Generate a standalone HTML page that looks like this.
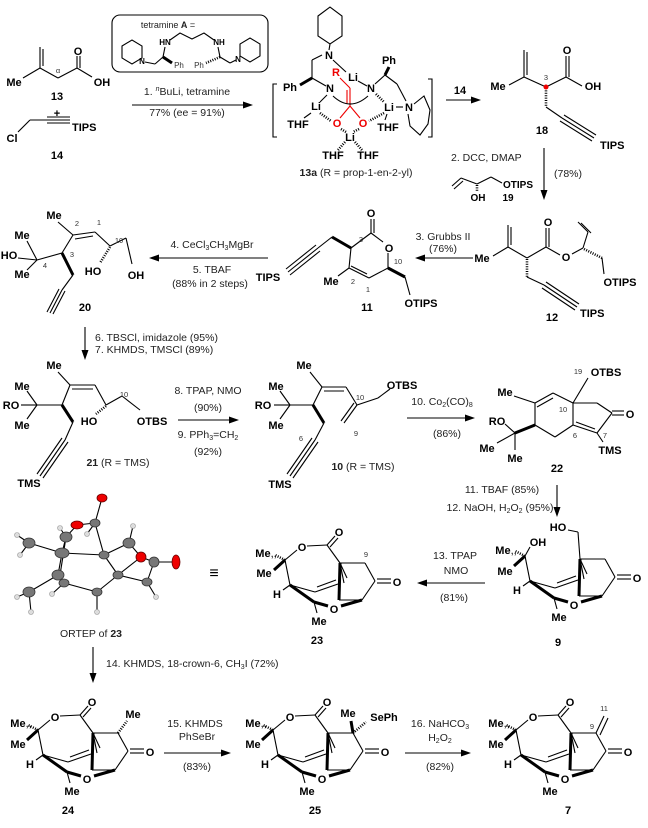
<!DOCTYPE html>
<html><head><meta charset="utf-8"><style>
html,body{margin:0;padding:0;background:#fff}
svg{display:block}
.t{font-family:"Liberation Sans",sans-serif;font-size:10.5px;text-anchor:middle;fill:#222}
.ts{font-family:"Liberation Sans",sans-serif;font-size:10.5px;text-anchor:start;fill:#222}
.a{font-family:"Liberation Sans",sans-serif;font-size:11px;font-weight:bold;text-anchor:middle}
.as{font-family:"Liberation Sans",sans-serif;font-size:11px;font-weight:bold;text-anchor:start}
.n{font-family:"Liberation Sans",sans-serif;font-size:7.5px;text-anchor:middle;fill:#333}
.s{font-family:"Liberation Sans",sans-serif;font-size:8px;font-weight:bold;text-anchor:middle}
line,polyline,polygon.r,path{stroke:#000;stroke-width:1.1;fill:none}
.w{stroke-width:3}
.h{stroke-width:2.6;stroke-dasharray:1 1.4}
.red{stroke:#e00}
</style></head><body>
<svg width="648" height="828" viewBox="0 0 648 828" xmlns="http://www.w3.org/2000/svg">
<defs>
<g id="core">
<line x1="38" y1="730" x2="43" y2="755"/>
<line x1="43" y1="755" x2="36" y2="760"/>
<line class="w" x1="43" y1="755" x2="67" y2="772"/>
<line x1="43" y1="755" x2="68" y2="762"/>
<line x1="68" y1="762" x2="91" y2="754"/>
<line x1="70" y1="757" x2="89" y2="750"/>
<line x1="93" y1="733" x2="97" y2="753"/>
<line class="w" x1="93" y1="733" x2="92" y2="770"/>
<line x1="93" y1="733" x2="100" y2="748"/>
<line class="w" x1="67" y1="772" x2="81" y2="776"/>
<line class="w" x1="94" y1="776" x2="115" y2="770"/>
<line x1="92" y1="770" x2="115" y2="770"/>
<line x1="115" y1="770" x2="128" y2="751"/>
<line x1="128" y1="751" x2="118" y2="733"/>
<line x1="93" y1="733" x2="118" y2="733"/>
<line x1="130" y1="749" x2="144" y2="749"/>
<line x1="130" y1="753" x2="144" y2="753"/>
<line x1="67" y1="772" x2="70" y2="783"/>
<line class="h" x1="38" y1="730" x2="28" y2="725"/>
<line class="w" x1="38" y1="730" x2="27" y2="740"/>
</g>
<g id="lac">
<line x1="38" y1="730" x2="50" y2="720"/>
<line x1="60" y1="716" x2="80" y2="715"/>
<line x1="80" y1="715" x2="88" y2="706"/>
<line x1="83" y1="717" x2="91" y2="708"/>
<line x1="80" y1="715" x2="93" y2="733"/>
</g>
<polygon id="ah" points="0,0 -10,-3.5 -10,3.5" fill="#000" stroke="none"/>
</defs>

<!-- 13 -->
<line x1="40" y1="47" x2="40" y2="68"/><line x1="43" y1="49" x2="43" y2="66"/>
<line x1="40" y1="68" x2="23" y2="78"/><line x1="40" y1="68" x2="58" y2="78"/>
<line x1="58" y1="78" x2="77" y2="68"/><line x1="77" y1="68" x2="77" y2="56"/><line x1="80" y1="68" x2="80" y2="56"/>
<line x1="77" y1="68" x2="92" y2="77"/>
<text class="a" x="14" y="86">Me</text><text class="a" x="78" y="55">O</text><text class="a" x="102" y="86">OH</text>
<text class="n" x="58" y="73">α</text>
<text class="a" x="57" y="100">13</text>
<text class="a" x="57" y="117">+</text>
<text class="a" x="12" y="142">Cl</text>
<line x1="18" y1="132" x2="30" y2="120"/><line x1="30" y1="120" x2="47" y2="120"/>
<line x1="47" y1="117" x2="70" y2="117"/><line x1="47" y1="120" x2="70" y2="120"/><line x1="47" y1="123" x2="70" y2="123"/>
<text class="as" x="72" y="131">TIPS</text>
<text class="a" x="57" y="159">14</text>

<!-- tetramine box -->
<rect x="112" y="15" width="156" height="57" rx="8" fill="none" stroke="#000" stroke-width="1.1"/>
<text class="t" x="168" y="28" style="font-size:9px">tetramine <tspan font-weight="bold">A</tspan> =</text>
<polygon class="r" points="122,46 132,40 142,46 142,58 132,64 122,58"/>
<line x1="145" y1="62" x2="155" y2="64"/><line x1="155" y1="64" x2="163" y2="57"/>
<line class="w" x1="163" y1="57" x2="172" y2="63"/>
<line x1="163" y1="57" x2="165" y2="47"/>
<polyline points="170,40 180,33 192,39 204,33 214,40"/>
<line class="h" x1="220" y1="57" x2="206" y2="63"/>
<line x1="220" y1="57" x2="218" y2="47"/>
<line x1="220" y1="57" x2="230" y2="63"/><line x1="230" y1="63" x2="236" y2="60"/>
<polygon class="r" points="240,56 240,44 250,38 260,44 260,56 250,62"/>
<text class="s" x="142" y="64">N</text><text class="s" x="238" y="62">N</text>
<text class="s" x="165" y="45">HN</text><text class="s" x="219" y="45">NH</text>
<text class="n" x="179" y="68" style="font-size:8px">Ph</text><text class="n" x="199" y="68" style="font-size:8px">Ph</text>

<!-- arrow 1 -->
<line x1="132" y1="105" x2="246" y2="105"/><use href="#ah" transform="translate(253,105)"/>
<text class="t" x="187" y="95">1. <tspan font-style="italic" font-size="7" dy="-4">n</tspan><tspan dy="4">BuLi, tetramine</tspan></text>
<text class="t" x="187" y="116">77% (ee = 91%)</text>

<!-- 13a -->
<polyline points="277,84 273,84 273,137 277,137"/>
<polyline points="428,79 432,79 432,137 428,137"/>
<polygon class="r" points="318,16 330,7 342,16 342,36 330,44 318,36"/>
<line x1="330" y1="44" x2="329" y2="50"/>
<text class="a" x="329" y="59">N</text>
<line x1="333" y1="60" x2="346" y2="72"/>
<text class="a" x="353" y="81">Li</text>
<line x1="312" y1="60" x2="312" y2="78"/><line x1="312" y1="60" x2="322" y2="55"/>
<line class="w" x1="300" y1="85" x2="312" y2="78"/>
<text class="a" x="290" y="91">Ph</text>
<line x1="312" y1="78" x2="326" y2="86"/>
<text class="a" x="330" y="92">N</text>
<line x1="327" y1="95" x2="320" y2="102"/>
<text class="a" x="316" y="110">Li</text>
<line x1="311" y1="113" x2="304" y2="118"/>
<text class="a" x="298" y="128">THF</text>
<text class="a" x="336" y="76" fill="#e00">R</text>
<line class="red" x1="340" y1="78" x2="350" y2="88"/>
<line class="red" x1="350" y1="88" x2="350" y2="106"/><line class="red" x1="347" y1="90" x2="347" y2="104"/>
<line class="red" x1="350" y1="106" x2="340" y2="118"/><line class="red" x1="350" y1="106" x2="360" y2="118"/>
<text class="a" x="337" y="127" fill="#e00">O</text><text class="a" x="363" y="127" fill="#e00">O</text>
<path d="M333,96 Q350,112 368,96"/>
<line class="h" x1="320" y1="113" x2="331" y2="121"/>
<line class="h" x1="384" y1="113" x2="369" y2="121"/>
<line class="h" x1="341" y1="129" x2="346" y2="132"/><line class="h" x1="359" y1="129" x2="353" y2="132"/>
<text class="a" x="350" y="141">Li</text>
<line class="h" x1="345" y1="142" x2="338" y2="150"/><line class="h" x1="355" y1="142" x2="362" y2="150"/>
<text class="a" x="333" y="159">THF</text><text class="a" x="368" y="159">THF</text>
<line x1="358" y1="81" x2="367" y2="86"/>
<text class="a" x="371" y="92">N</text>
<line class="h" x1="376" y1="94" x2="384" y2="102"/>
<text class="a" x="389" y="111">Li</text>
<line x1="396" y1="107" x2="403" y2="107"/>
<text class="a" x="409" y="111">N</text>
<line x1="387" y1="114" x2="385" y2="120"/>
<text class="a" x="388" y="131">THF</text>
<line class="w" x1="385" y1="75" x2="389" y2="67"/>
<text class="a" x="389" y="64">Ph</text>
<line x1="385" y1="75" x2="375" y2="84"/><line x1="385" y1="75" x2="397" y2="84"/><line x1="397" y1="84" x2="406" y2="101"/>
<polyline points="414,104 424,96 430,110 428,124 420,135 410,126 408,114"/>
<text class="t" x="356" y="176"><tspan font-weight="bold">13a</tspan> (R = prop-1-en-2-yl)</text>

<!-- arrow 14 -->
<line x1="446" y1="100" x2="474" y2="100"/><use href="#ah" transform="translate(481,100)"/>
<text class="a" x="460" y="94">14</text>

<!-- 18 -->
<line x1="524" y1="50" x2="524" y2="77"/><line x1="527" y1="52" x2="527" y2="75"/>
<line x1="524" y1="77" x2="509" y2="85"/><line x1="524" y1="77" x2="546" y2="87"/>
<line x1="546" y1="87" x2="566" y2="77"/><line x1="566" y1="77" x2="566" y2="56"/><line x1="569" y1="77" x2="569" y2="56"/>
<line x1="566" y1="77" x2="582" y2="86"/>
<line class="h" x1="546" y1="88" x2="546" y2="107"/>
<line x1="546" y1="107" x2="562" y2="118"/>
<line x1="562" y1="118" x2="594" y2="138"/><line x1="564" y1="115" x2="596" y2="135"/><line x1="560" y1="121" x2="592" y2="141"/>
<circle cx="546" cy="87" r="2.5" fill="#e00"/>
<text class="a" x="498" y="90">Me</text><text class="a" x="567" y="54">O</text><text class="a" x="593" y="90">OH</text>
<text class="n" x="546" y="80">3</text>
<text class="as" x="600" y="149">TIPS</text>
<text class="a" x="542" y="134">18</text>

<!-- arrow 2 -->
<line x1="544" y1="148" x2="544" y2="193"/><use href="#ah" transform="translate(544,200) rotate(90)"/>
<text class="ts" x="451" y="161">2. DCC, DMAP</text>
<text class="ts" x="554" y="177">(78%)</text>
<line x1="452" y1="186" x2="461" y2="178"/><line x1="454" y1="189" x2="463" y2="181"/>
<line x1="461" y1="178" x2="477" y2="184"/><line x1="477" y1="184" x2="491" y2="177"/><line x1="491" y1="177" x2="502" y2="183"/>
<line class="h" x1="477" y1="185" x2="477" y2="192"/>
<text class="as" x="503" y="188" style="font-size:10px">OTIPS</text>
<text class="a" x="478" y="201" style="font-size:10px">OH</text>
<text class="a" x="508" y="201" style="font-size:10px">19</text>

<!-- 12 -->
<line x1="508" y1="225" x2="508" y2="247"/><line x1="511" y1="227" x2="511" y2="245"/>
<line x1="508" y1="247" x2="493" y2="256"/><line x1="508" y1="247" x2="527" y2="258"/>
<line x1="527" y1="258" x2="546" y2="247"/><line x1="546" y1="247" x2="546" y2="228"/><line x1="549" y1="247" x2="549" y2="228"/>
<line x1="546" y1="247" x2="560" y2="255"/><line x1="572" y1="254" x2="583" y2="248"/>
<line x1="583" y1="248" x2="588" y2="232"/><line x1="588" y1="232" x2="578" y2="222"/><line x1="591" y1="233" x2="581" y2="223"/>
<line class="h" x1="584" y1="249" x2="602" y2="258"/><line x1="602" y1="258" x2="604" y2="274"/>
<line class="h" x1="527" y1="259" x2="527" y2="277"/><line x1="527" y1="277" x2="544" y2="285"/>
<line x1="544" y1="285" x2="577" y2="307"/><line x1="546" y1="282" x2="579" y2="304"/><line x1="542" y1="288" x2="575" y2="310"/>
<text class="a" x="482" y="262">Me</text><text class="a" x="548" y="226">O</text><text class="a" x="566" y="261">O</text>
<text class="a" x="620" y="286">OTIPS</text><text class="as" x="580" y="317">TIPS</text>
<text class="a" x="552" y="321">12</text>

<!-- arrow 3 -->
<line x1="473" y1="258" x2="422" y2="258"/><use href="#ah" transform="translate(415,258) rotate(180)"/>
<text class="t" x="443" y="240">3. Grubbs II</text><text class="t" x="443" y="252">(76%)</text>

<!-- 11 -->
<line x1="371" y1="219" x2="371" y2="233"/><line x1="374" y1="219" x2="374" y2="233"/>
<line x1="371" y1="233" x2="383" y2="242"/><line x1="388" y1="253" x2="388" y2="268"/>
<line x1="388" y1="268" x2="369" y2="278"/><line x1="369" y1="278" x2="349" y2="268"/><line x1="367" y1="274" x2="351" y2="266"/>
<line x1="349" y1="268" x2="351" y2="248"/><line x1="351" y1="248" x2="371" y2="233"/>
<line x1="349" y1="268" x2="338" y2="276"/>
<line class="w" x1="351" y1="248" x2="332" y2="237"/><line x1="332" y1="237" x2="318" y2="248"/>
<line x1="318" y1="248" x2="288" y2="272"/><line x1="316" y1="245" x2="286" y2="269"/><line x1="320" y1="251" x2="290" y2="275"/>
<line class="w" x1="388" y1="268" x2="405" y2="277"/><line x1="405" y1="277" x2="410" y2="295"/>
<text class="a" x="371" y="217">O</text><text class="a" x="389" y="252">O</text>
<text class="a" x="331" y="285">Me</text><text class="a" x="268" y="281">TIPS</text><text class="a" x="421" y="307">OTIPS</text>
<text class="n" x="361" y="242">3</text><text class="n" x="353" y="284">2</text><text class="n" x="368" y="292">1</text><text class="n" x="398" y="264">10</text>
<text class="a" x="367" y="311">11</text>

<!-- arrow 4/5 -->
<line x1="268" y1="258" x2="156" y2="258"/><use href="#ah" transform="translate(149,258) rotate(180)"/>
<text class="t" x="212" y="248">4. CeCl<tspan font-size="7" dy="2">3</tspan><tspan dy="-2">CH</tspan><tspan font-size="7" dy="2">3</tspan><tspan dy="-2">MgBr</tspan></text>
<text class="t" x="212" y="273">5. TBAF</text><text class="t" x="210" y="287">(88% in 2 steps)</text>

<!-- 20 -->
<line x1="58" y1="222" x2="73" y2="235"/>
<line x1="73" y1="235" x2="95" y2="232"/><line x1="75" y1="239" x2="93" y2="236"/>
<line x1="95" y1="232" x2="110" y2="246"/><line x1="110" y1="246" x2="126" y2="238"/><line x1="126" y1="238" x2="132" y2="264"/>
<line class="h" x1="110" y1="247" x2="100" y2="263"/>
<line x1="73" y1="235" x2="62" y2="253"/><line x1="62" y1="253" x2="37" y2="260"/>
<line x1="37" y1="260" x2="27" y2="241"/><line x1="37" y1="260" x2="18" y2="258"/><line x1="37" y1="260" x2="27" y2="270"/>
<line class="w" x1="62" y1="253" x2="73" y2="275"/><line x1="73" y1="275" x2="62" y2="290"/>
<line x1="62" y1="290" x2="50" y2="313"/><line x1="59" y1="289" x2="47" y2="312"/><line x1="65" y1="291" x2="53" y2="314"/>
<text class="a" x="54" y="219">Me</text><text class="a" x="22" y="239">Me</text><text class="a" x="9" y="259">HO</text><text class="a" x="22" y="278">Me</text>
<text class="a" x="93" y="275">HO</text><text class="a" x="136" y="279">OH</text>
<text class="n" x="77" y="226">2</text><text class="n" x="99" y="225">1</text><text class="n" x="119" y="243">10</text><text class="n" x="72" y="257">3</text><text class="n" x="45" y="268">4</text>
<text class="a" x="85" y="311">20</text>

<!-- arrow 6/7 -->
<line x1="85" y1="327" x2="85" y2="353"/><use href="#ah" transform="translate(85,360) rotate(90)"/>
<text class="ts" x="95" y="341">6. TBSCl, imidazole (95%)</text>
<text class="ts" x="95" y="353">7. KHMDS, TMSCl (89%)</text>

<!-- 21 -->
<line x1="58" y1="372" x2="70" y2="385"/>
<line x1="70" y1="385" x2="95" y2="385"/><line x1="72" y1="389" x2="93" y2="389"/>
<line x1="95" y1="385" x2="106" y2="405"/><line x1="106" y1="405" x2="122" y2="396"/><line x1="122" y1="396" x2="140" y2="410"/>
<line class="h" x1="106" y1="406" x2="96" y2="414"/>
<line x1="70" y1="385" x2="62" y2="405"/><line x1="62" y1="405" x2="37" y2="405"/>
<line x1="37" y1="405" x2="27" y2="391"/><line x1="37" y1="405" x2="21" y2="405"/><line x1="37" y1="405" x2="27" y2="419"/>
<line class="w" x1="62" y1="405" x2="73" y2="422"/><line x1="73" y1="422" x2="65" y2="440"/>
<line x1="65" y1="440" x2="40" y2="476"/><line x1="62" y1="438" x2="37" y2="474"/><line x1="68" y1="442" x2="43" y2="478"/>
<text class="a" x="54" y="369">Me</text><text class="a" x="22" y="390">Me</text><text class="a" x="11" y="409">RO</text><text class="a" x="22" y="429">Me</text>
<text class="a" x="89" y="425">HO</text><text class="a" x="152" y="425">OTBS</text><text class="a" x="29" y="487">TMS</text>
<text class="n" x="124" y="397">10</text>
<text class="t" x="118" y="466"><tspan font-weight="bold">21</tspan> (R = TMS)</text>

<!-- arrow 8/9 -->
<line x1="178" y1="420" x2="232" y2="420"/><use href="#ah" transform="translate(239,420)"/>
<text class="t" x="208" y="394">8. TPAP,  NMO</text><text class="t" x="208" y="411">(90%)</text>
<text class="t" x="208" y="438">9. PPh<tspan font-size="7" dy="2">3</tspan><tspan dy="-2">=CH</tspan><tspan font-size="7" dy="2">2</tspan></text>
<text class="t" x="208" y="455">(92%)</text>

<!-- 10 -->
<line x1="310" y1="372" x2="322" y2="387"/>
<line x1="322" y1="387" x2="346" y2="387"/><line x1="324" y1="391" x2="344" y2="391"/>
<line x1="346" y1="387" x2="357" y2="405"/><line x1="357" y1="405" x2="344" y2="423"/><line x1="354" y1="403" x2="341" y2="421"/>
<line x1="357" y1="405" x2="378" y2="398"/><line x1="378" y1="398" x2="390" y2="389"/>
<line x1="322" y1="387" x2="313" y2="405"/><line x1="313" y1="405" x2="290" y2="405"/>
<line x1="290" y1="405" x2="280" y2="391"/><line x1="290" y1="405" x2="274" y2="405"/><line x1="290" y1="405" x2="280" y2="419"/>
<line class="w" x1="313" y1="405" x2="324" y2="423"/><line x1="324" y1="423" x2="315" y2="440"/>
<line x1="315" y1="440" x2="290" y2="476"/><line x1="312" y1="438" x2="287" y2="474"/><line x1="318" y1="442" x2="293" y2="478"/>
<text class="a" x="304" y="369">Me</text><text class="a" x="276" y="390">Me</text><text class="a" x="263" y="409">RO</text><text class="a" x="276" y="429">Me</text>
<text class="a" x="402" y="389">OTBS</text><text class="a" x="280" y="488">TMS</text>
<text class="n" x="360" y="400">10</text><text class="n" x="356" y="436">9</text><text class="n" x="301" y="441">6</text>
<text class="t" x="363" y="470"><tspan font-weight="bold">10</tspan> (R = TMS)</text>

<!-- arrow 10 -->
<line x1="407" y1="418" x2="468" y2="418"/><use href="#ah" transform="translate(475,418)"/>
<text class="t" x="442" y="405">10. Co<tspan font-size="7" dy="2">2</tspan><tspan dy="-2">(CO)</tspan><tspan font-size="7" dy="2">8</tspan></text>
<text class="t" x="447" y="437">(86%)</text>

<!-- 22 -->
<line x1="535" y1="403" x2="553" y2="393"/><line x1="537" y1="407" x2="553" y2="398"/>
<line x1="553" y1="393" x2="573" y2="403"/><line x1="573" y1="403" x2="573" y2="425"/>
<line x1="573" y1="425" x2="555" y2="437"/><line x1="555" y1="437" x2="535" y2="425"/><line x1="535" y1="425" x2="535" y2="403"/>
<line x1="535" y1="403" x2="514" y2="396"/>
<line class="w" x1="535" y1="425" x2="515" y2="433"/>
<line x1="515" y1="433" x2="505" y2="424"/><line x1="515" y1="433" x2="497" y2="443"/><line x1="515" y1="433" x2="515" y2="450"/>
<line x1="573" y1="403" x2="588" y2="378"/>
<line x1="573" y1="403" x2="597" y2="403"/><line x1="597" y1="403" x2="612" y2="413"/>
<line x1="612" y1="411" x2="624" y2="411"/><line x1="612" y1="415" x2="624" y2="415"/>
<line x1="612" y1="413" x2="597" y2="433"/><line x1="597" y1="433" x2="573" y2="425"/><line x1="595" y1="429" x2="576" y2="422"/>
<line x1="597" y1="433" x2="603" y2="442"/>
<text class="a" x="505" y="396">Me</text><text class="a" x="497" y="425">RO</text><text class="a" x="487" y="452">Me</text><text class="a" x="515" y="462">Me</text>
<text class="a" x="630" y="418">O</text><text class="a" x="610" y="454">TMS</text><text class="a" x="606" y="376">OTBS</text>
<text class="n" x="578" y="374">19</text><text class="n" x="563" y="412">10</text><text class="n" x="575" y="438">6</text><text class="n" x="605" y="438">7</text>
<text class="a" x="557" y="472">22</text>

<!-- arrow 11/12 -->
<line x1="557" y1="485" x2="557" y2="510"/><use href="#ah" transform="translate(557,517) rotate(90)"/>
<text class="t" x="502" y="493">11. TBAF (85%)</text>
<text class="t" x="500" y="511">12. NaOH, H<tspan font-size="7" dy="2">2</tspan><tspan dy="-2">O</tspan><tspan font-size="7" dy="2">2</tspan><tspan dy="-2"> (95%)</tspan></text>

<!-- 9 -->
<g transform="translate(487,-174)"><use href="#core"/></g>
<line x1="525" y1="556" x2="530" y2="547"/>
<line x1="580" y1="559" x2="578" y2="532"/><line x1="578" y1="532" x2="568" y2="530"/>
<text class="a" x="538" y="546">OH</text><text class="a" x="558" y="531">HO</text>
<text class="a" x="506" y="554">Me<tspan font-weight="normal">,,</tspan></text><text class="a" x="505" y="575">Me</text>
<text class="a" x="517" y="594">H</text><text class="a" x="559" y="621">Me</text><text class="a" x="574" y="609">O</text><text class="a" x="637" y="582">O</text>
<text class="a" x="558" y="646">9</text>

<!-- arrow 13 -->
<line x1="485" y1="583" x2="424" y2="583"/><use href="#ah" transform="translate(417,583) rotate(180)"/>
<text class="t" x="455" y="559">13. TPAP</text><text class="t" x="456" y="574">NMO</text><text class="t" x="454" y="601">(81%)</text>

<!-- 23 -->
<g transform="translate(247,-170)"><use href="#core"/><use href="#lac"/></g>
<text class="a" x="339" y="536">O</text><text class="a" x="302" y="551">O</text>
<text class="a" x="266" y="557">Me<tspan font-weight="normal">,,</tspan></text><text class="a" x="264" y="577">Me</text>
<text class="a" x="277" y="598">H</text><text class="a" x="319" y="625">Me</text><text class="a" x="334" y="613">O</text><text class="a" x="397" y="586">O</text>
<text class="n" x="366" y="557">9</text>
<text class="a" x="317" y="644">23</text>
<text class="a" x="214" y="578" style="font-size:16px;font-weight:normal">≡</text>

<!-- ORTEP -->
<g stroke="#111" stroke-width="3" fill="none">
<line x1="102" y1="498" x2="95" y2="523"/><line x1="95" y1="523" x2="77" y2="525"/><line x1="95" y1="523" x2="104" y2="555"/>
<line x1="77" y1="525" x2="66" y2="537"/><line x1="66" y1="537" x2="62" y2="553"/><line x1="29" y1="543" x2="62" y2="553"/>
<line x1="62" y1="553" x2="104" y2="555"/><line x1="104" y1="555" x2="129" y2="543"/><line x1="129" y1="543" x2="141" y2="557"/>
<line x1="141" y1="557" x2="154" y2="562"/><line x1="154" y1="562" x2="176" y2="562"/><line x1="104" y1="555" x2="118" y2="575"/>
<line x1="118" y1="575" x2="147" y2="582"/><line x1="147" y1="582" x2="154" y2="562"/><line x1="118" y1="575" x2="141" y2="557"/>
<line x1="62" y1="553" x2="58" y2="575"/><line x1="58" y1="575" x2="29" y2="592"/><line x1="58" y1="575" x2="64" y2="583"/>
<line x1="64" y1="583" x2="97" y2="592"/><line x1="97" y1="592" x2="118" y2="575"/><line x1="66" y1="537" x2="60" y2="575"/>
</g>
<g stroke="#999" stroke-width="1">
<line x1="29" y1="543" x2="17" y2="535"/><line x1="29" y1="543" x2="20" y2="555"/><line x1="29" y1="592" x2="17" y2="597"/><line x1="29" y1="592" x2="31" y2="612"/>
<line x1="97" y1="592" x2="97" y2="612"/><line x1="147" y1="582" x2="156" y2="597"/><line x1="129" y1="543" x2="133" y2="526"/><line x1="64" y1="583" x2="52" y2="594"/>
<line x1="66" y1="537" x2="60" y2="528"/><line x1="95" y1="523" x2="87" y2="534"/>
</g>
<g fill="#777" stroke="#333" stroke-width="0.8">
<ellipse cx="95" cy="523" rx="5" ry="4"/><ellipse cx="66" cy="537" rx="6" ry="5"/><ellipse cx="29" cy="543" rx="6" ry="5"/>
<ellipse cx="62" cy="553" rx="7" ry="5"/><ellipse cx="104" cy="555" rx="5" ry="4"/><ellipse cx="129" cy="543" rx="6" ry="5"/>
<ellipse cx="154" cy="562" rx="5" ry="5"/><ellipse cx="118" cy="575" rx="5" ry="4"/><ellipse cx="147" cy="582" rx="5" ry="4"/>
<ellipse cx="58" cy="575" rx="6" ry="5"/><ellipse cx="29" cy="592" rx="6" ry="5"/><ellipse cx="64" cy="583" rx="5" ry="4"/><ellipse cx="97" cy="592" rx="5" ry="4"/>
</g>
<g fill="#e00" stroke="#600" stroke-width="0.8">
<ellipse cx="102" cy="498" rx="5" ry="4"/><ellipse cx="77" cy="525" rx="6" ry="4"/><ellipse cx="141" cy="557" rx="5" ry="5"/><ellipse cx="176" cy="562" rx="4" ry="7"/>
</g>
<g fill="#ddd" stroke="#999" stroke-width="0.6">
<circle cx="17" cy="535" r="2.5"/><circle cx="20" cy="555" r="2.5"/><circle cx="17" cy="597" r="2.5"/><circle cx="31" cy="612" r="2.5"/>
<circle cx="97" cy="612" r="2.5"/><circle cx="156" cy="597" r="2.5"/><circle cx="133" cy="526" r="2.5"/><circle cx="52" cy="594" r="2.5"/>
<circle cx="60" cy="528" r="2.5"/><circle cx="87" cy="534" r="2.5"/>
</g>
<text class="t" x="91" y="637">ORTEP of <tspan font-weight="bold">23</tspan></text>

<!-- arrow 14 -->
<line x1="93" y1="647" x2="93" y2="676"/><use href="#ah" transform="translate(93,683) rotate(90)"/>
<text class="ts" x="106" y="667">14. KHMDS, 18-crown-6, CH<tspan font-size="7" dy="2">3</tspan><tspan dy="-2">I (72%)</tspan></text>

<!-- 24 -->
<use href="#core"/><use href="#lac"/>
<line class="h" x1="118" y1="733" x2="127" y2="721"/>
<text class="a" x="92" y="706">O</text><text class="a" x="55" y="721">O</text>
<text class="a" x="21" y="727">Me<tspan font-weight="normal">,,</tspan></text><text class="a" x="18" y="748">Me</text>
<text class="a" x="30" y="768">H</text><text class="a" x="72" y="795">Me</text><text class="a" x="87" y="783">O</text><text class="a" x="150" y="756">O</text>
<text class="a" x="133" y="718">Me</text>
<text class="a" x="68" y="814">24</text>

<!-- arrow 15 -->
<line x1="164" y1="753" x2="224" y2="753"/><use href="#ah" transform="translate(231,753)"/>
<text class="t" x="195" y="727">15. KHMDS</text><text class="t" x="197" y="740">PhSeBr</text><text class="t" x="197" y="770">(83%)</text>

<!-- 25 -->
<g transform="translate(235,0)"><use href="#core"/><use href="#lac"/></g>
<line class="w" x1="353" y1="733" x2="351" y2="721"/>
<line class="h" x1="353" y1="733" x2="366" y2="722"/>
<text class="a" x="327" y="706">O</text><text class="a" x="290" y="721">O</text>
<text class="a" x="256" y="727">Me<tspan font-weight="normal">,,</tspan></text><text class="a" x="253" y="748">Me</text>
<text class="a" x="265" y="768">H</text><text class="a" x="307" y="795">Me</text><text class="a" x="322" y="783">O</text><text class="a" x="385" y="756">O</text>
<text class="a" x="348" y="717">Me</text><text class="a" x="384" y="721">SePh</text>
<text class="a" x="315" y="814">25</text>

<!-- arrow 16 -->
<line x1="405" y1="753" x2="464" y2="753"/><use href="#ah" transform="translate(471,753)"/>
<text class="t" x="440" y="727">16. NaHCO<tspan font-size="7" dy="2">3</tspan></text>
<text class="t" x="440" y="741">H<tspan font-size="7" dy="2">2</tspan><tspan dy="-2">O</tspan><tspan font-size="7" dy="2">2</tspan></text>
<text class="t" x="440" y="770">(82%)</text>

<!-- 7 -->
<g transform="translate(478,0)"><use href="#core"/><use href="#lac"/></g>
<line x1="596" y1="733" x2="604" y2="716"/><line x1="600" y1="735" x2="608" y2="718"/>
<text class="a" x="570" y="706">O</text><text class="a" x="533" y="721">O</text>
<text class="a" x="499" y="727">Me<tspan font-weight="normal">,,</tspan></text><text class="a" x="496" y="748">Me</text>
<text class="a" x="508" y="768">H</text><text class="a" x="550" y="795">Me</text><text class="a" x="565" y="783">O</text><text class="a" x="628" y="756">O</text>
<text class="n" x="604" y="711">11</text><text class="n" x="592" y="729">9</text>
<text class="a" x="568" y="814">7</text>
</svg>
</body></html>
